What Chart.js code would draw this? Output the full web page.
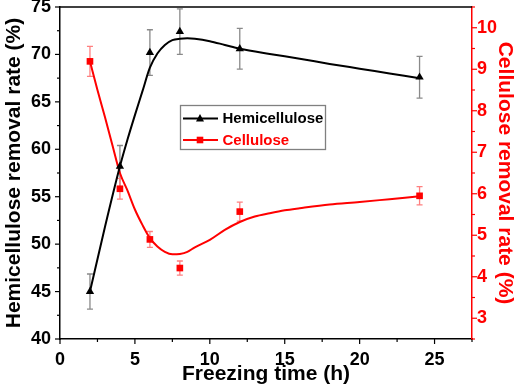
<!DOCTYPE html>
<html><head><meta charset="utf-8">
<script src="https://cdn.jsdelivr.net/npm/chart.js@4/dist/chart.umd.min.js"></script>
<style>html,body{margin:0;padding:0;background:#fff}canvas{display:block}</style>
</head><body>
<canvas id="c" width="519" height="390"></canvas>
<script>
// ---- data ----
const times = [2, 4, 6, 8, 12, 24];
const hemiValues = [45.0, 58.2, 70.2, 72.4, 70.6, 67.6];
const hemiErrors = [1.85, 2.2, 2.4, 2.4, 2.15, 2.2];
const celluloseValues = [9.19, 6.12, 4.90, 4.21, 5.57, 5.95];
const celluloseErrors = [0.36, 0.25, 0.19, 0.17, 0.23, 0.22];
// fitted curves
const hemiFitX = [2, 3, 4, 4.5, 5, 5.5, 6, 6.5, 7, 7.5, 8, 8.5, 9, 10, 11, 12, 14, 16, 18, 20, 22, 24];
const hemiFitY = [45, 51.8, 58.2, 61.0, 63.6, 66.1, 68.6, 70.1, 71.0, 71.5, 71.65, 71.7, 71.65, 71.4, 71.0, 70.6, 70.05, 69.55, 69.0, 68.5, 68.0, 67.5];
const celFitX = [2, 2.5, 3, 3.5, 4, 4.5, 5, 5.5, 6, 6.5, 7, 7.5, 8, 8.5, 9, 10, 11, 12, 13, 14, 15, 16, 18, 20, 22, 24];
const celFitY = [9.19, 8.5, 7.85, 7.17, 6.5, 6.08, 5.62, 5.25, 4.93, 4.73, 4.6, 4.54, 4.55, 4.6, 4.71, 4.89, 5.13, 5.32, 5.45, 5.53, 5.6, 5.65, 5.74, 5.8, 5.87, 5.94];
// tick labels
const xTicks = [0, 5, 10, 15, 20, 25];
const yLeftTicks = [40, 45, 50, 55, 60, 65, 70, 75];
const yRightTicks = [3, 4, 5, 6, 7, 8, 9, 10];
const seriesNames = ['Hemicellulose', 'Cellulose'];
const xTitle = 'Freezing time (h)';
const yLeftTitle = 'Hemicellulose removal rate (%)';
const yRightTitle = 'Cellulose removal rate (%)';

const FONT = "'Liberation Sans', Arial, sans-serif";
const RED = '#ff0000';
const zip = (xs, ys) => xs.map((x, i) => ({x, y: ys[i]}));
const asTicks = arr => arr.map(v => ({value: v}));

const errorBars = {
  id: 'errorBars',
  beforeDatasetsDraw(chart) {
    const {ctx, scales} = chart;
    const sets = [
      {vals: hemiValues, errs: hemiErrors, axis: scales.y, color: '#8a8a8a'},
      {vals: celluloseValues, errs: celluloseErrors, axis: scales.y2, color: '#ff8080'}
    ];
    ctx.save();
    ctx.lineWidth = 1.3;
    sets.forEach(s => {
      ctx.strokeStyle = s.color;
      times.forEach((t, i) => {
        const px = scales.x.getPixelForValue(t);
        const y1 = s.axis.getPixelForValue(s.vals[i] + s.errs[i]);
        const y2 = s.axis.getPixelForValue(s.vals[i] - s.errs[i]);
        ctx.beginPath();
        ctx.moveTo(px, y1); ctx.lineTo(px, y2);
        ctx.moveTo(px - 3, y1); ctx.lineTo(px + 3, y1);
        ctx.moveTo(px - 3, y2); ctx.lineTo(px + 3, y2);
        ctx.stroke();
      });
    });
    ctx.restore();
  }
};

const frame = {
  id: 'frame',
  afterDraw(chart) {
    const {ctx, chartArea: a, scales} = chart;
    ctx.save();
    ctx.lineWidth = 1.5;
    ctx.strokeStyle = '#000';
    ctx.beginPath(); ctx.moveTo(a.left, a.top); ctx.lineTo(a.right, a.top); ctx.stroke();
    ctx.lineWidth = 1.2;
    for (let v = 40; v <= 75.001; v += 2.5) {
      const py = scales.y.getPixelForValue(v);
      const len = Math.abs(v % 5) < 1e-6 ? 5 : 3;
      ctx.beginPath(); ctx.moveTo(a.left - len, py); ctx.lineTo(a.left, py); ctx.stroke();
    }
    for (let v = 0; v <= 27.5001; v += 2.5) {
      const px = scales.x.getPixelForValue(v);
      const len = Math.abs(v % 5) < 1e-6 ? 5 : 3;
      ctx.beginPath(); ctx.moveTo(px, a.bottom); ctx.lineTo(px, a.bottom + len); ctx.stroke();
    }
    ctx.strokeStyle = RED;
    for (let v = 2.5; v <= 10.5001; v += 0.5) {
      const py = scales.y2.getPixelForValue(v);
      const len = Math.abs(v % 1) < 1e-6 ? 5 : 3;
      ctx.beginPath(); ctx.moveTo(a.right, py); ctx.lineTo(a.right + len, py); ctx.stroke();
    }
    // legend
    const lx = 180.5, ly = 105.5, lw = 145, lh = 44;
    ctx.strokeStyle = '#808080'; ctx.lineWidth = 1.3;
    ctx.strokeRect(lx, ly, lw, lh);
    const rows = [
      {name: seriesNames[0], color: '#000', y: 118.5, shape: 'tri'},
      {name: seriesNames[1], color: RED, y: 140, shape: 'sq'}
    ];
    rows.forEach(r => {
      ctx.strokeStyle = r.color; ctx.fillStyle = r.color; ctx.lineWidth = 2;
      ctx.beginPath(); ctx.moveTo(183, r.y); ctx.lineTo(218, r.y); ctx.stroke();
      ctx.beginPath();
      if (r.shape === 'tri') { ctx.moveTo(200, r.y - 4.5); ctx.lineTo(204, r.y + 3); ctx.lineTo(196, r.y + 3); ctx.closePath(); }
      else { ctx.rect(196.7, r.y - 3.3, 6.6, 6.6); }
      ctx.fill();
      ctx.font = 'bold 15px ' + FONT;
      ctx.textBaseline = 'middle'; ctx.textAlign = 'left';
      ctx.fillText(r.name, 222.5, r.y + 0.5);
    });
    ctx.restore();
  }
};

const tickFont = {family: FONT, size: 18, weight: 'bold'};
const titleFont = {family: FONT, size: 21, weight: 'bold'};

new Chart(document.getElementById('c'), {
  type: 'scatter',
  data: {
    datasets: [
      {data: zip(hemiFitX, hemiFitY), yAxisID: 'y', showLine: true, borderColor: '#000', borderWidth: 2, pointRadius: 0, cubicInterpolationMode: 'monotone', order: 3},
      {data: zip(celFitX, celFitY), yAxisID: 'y2', showLine: true, borderColor: RED, borderWidth: 2, pointRadius: 0, cubicInterpolationMode: 'monotone', order: 4},
      {label: seriesNames[0], data: zip(times, hemiValues), yAxisID: 'y', showLine: false, pointStyle: 'triangle', pointRadius: 4.8, backgroundColor: '#000', borderColor: '#000', borderWidth: 0, order: 1},
      {label: seriesNames[1], data: zip(times, celluloseValues), yAxisID: 'y2', showLine: false, pointStyle: 'rect', pointRadius: 4.7, backgroundColor: RED, borderColor: RED, borderWidth: 0, order: 2}
    ]
  },
  options: {
    responsive: false, animation: false, devicePixelRatio: 1,
    layout: {padding: {top: 7, left: 0, right: 0, bottom: 0}},
    plugins: {legend: {display: false}, tooltip: {enabled: false}},
    scales: {
      x: {
        type: 'linear', min: 0, max: 27.5,
        afterBuildTicks: s => { s.ticks = asTicks(xTicks); },
        afterFit: s => { s.height = 51; s.paddingLeft = 0; s.paddingRight = 0; },
        grid: {display: false, drawTicks: false},
        border: {display: true, color: '#000', width: 1.5},
        ticks: {autoSkip: false, maxRotation: 0, padding: 10, color: '#000', font: tickFont},
        title: {display: true, text: xTitle, color: '#000', font: titleFont, padding: {top: 3, bottom: 3}}
      },
      y: {
        type: 'linear', position: 'left', min: 40, max: 75,
        afterBuildTicks: s => { s.ticks = asTicks(yLeftTicks); },
        afterFit: s => { s.width = 60; s.paddingTop = 0; s.paddingBottom = 0; },
        grid: {display: false, drawTicks: false},
        border: {display: true, color: '#000', width: 1.5},
        ticks: {autoSkip: false, padding: 9, color: '#000', font: tickFont},
        title: {display: true, text: yLeftTitle, color: '#000', font: titleFont, padding: {top: 2, bottom: 0}}
      },
      y2: {
        type: 'linear', position: 'right', min: 2.5, max: 10.5,
        afterBuildTicks: s => { s.ticks = asTicks(yRightTicks); },
        afterFit: s => { s.width = 47; s.paddingTop = 0; s.paddingBottom = 0; },
        grid: {display: false, drawTicks: false},
        border: {display: true, color: RED, width: 1.5},
        ticks: {autoSkip: false, padding: 5, color: RED, font: tickFont},
        title: {display: true, text: yRightTitle, color: RED, font: titleFont, padding: {top: 2, bottom: 0}}
      }
    }
  },
  plugins: [errorBars, frame]
});
</script>
</body></html>
